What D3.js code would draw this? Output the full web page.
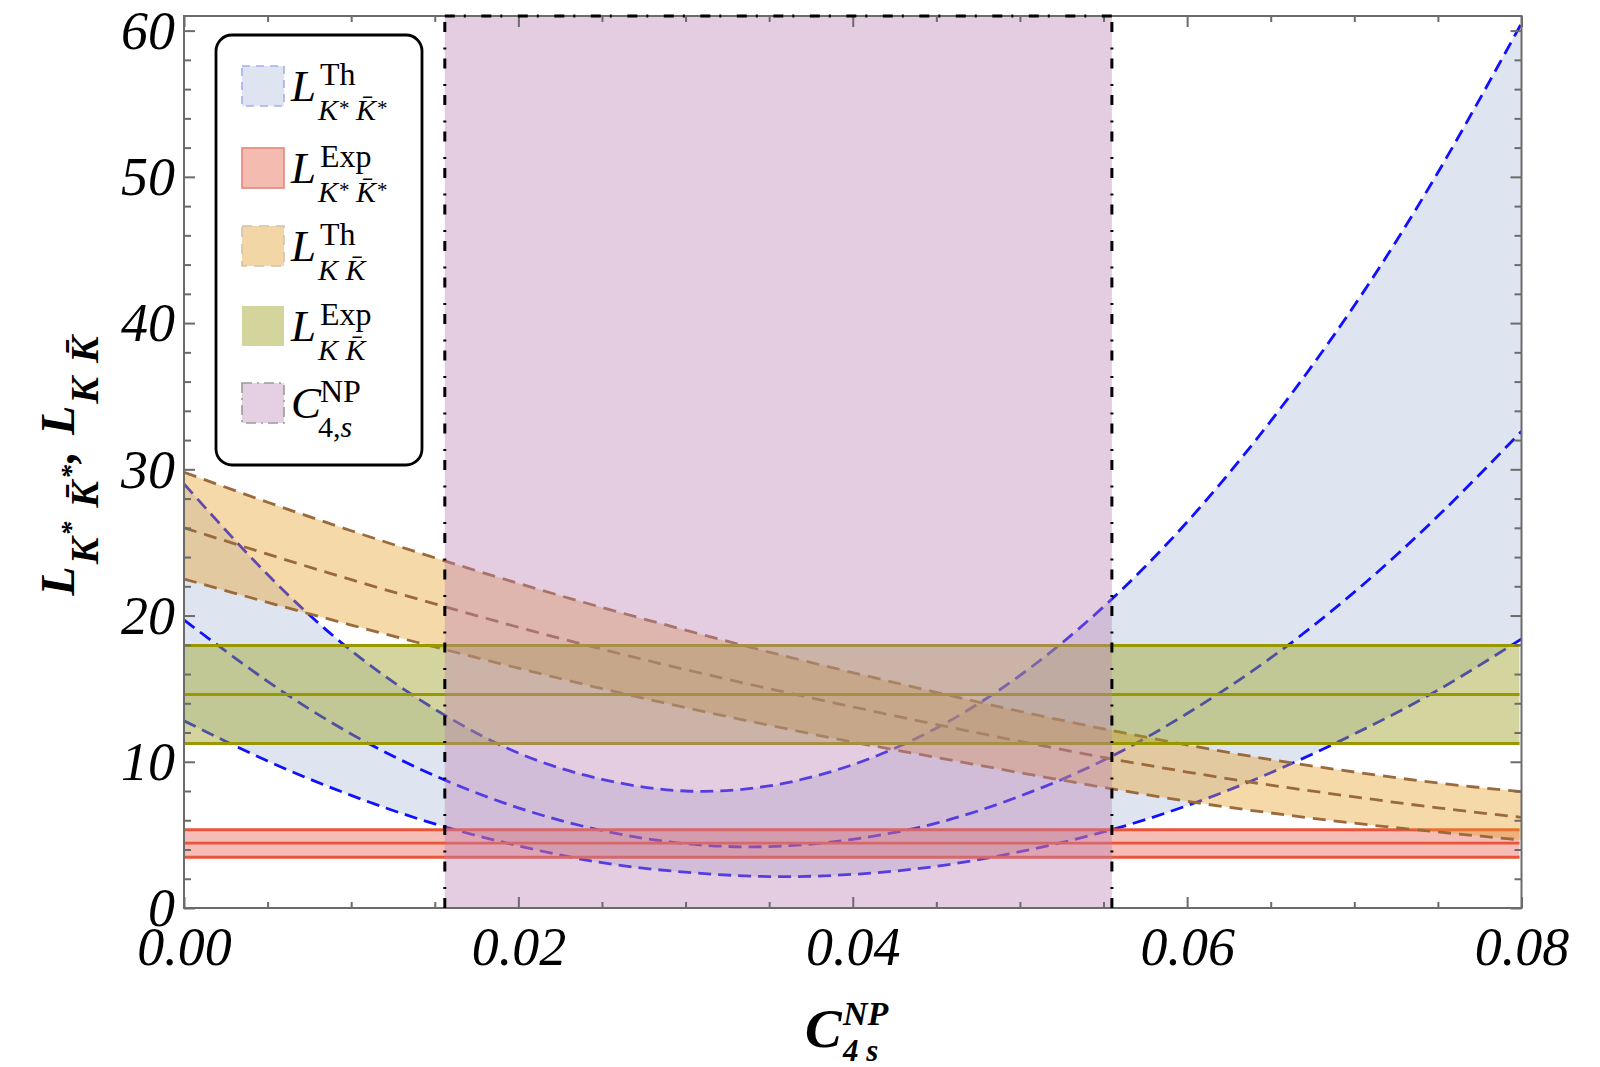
<!DOCTYPE html>
<html>
<head>
<meta charset="utf-8">
<title>L ratios vs C4s NP</title>
<script src="https://d3js.org/d3.v7.min.js"></script>
<style>
  body { margin: 0; background: #fff; }
  svg { display: block; }
</style>
</head>
<body>
<svg id="chart" width="1600" height="1067"></svg>
<script type="text/javascript">

// values
const xGrid = [0, 0.005, 0.01, 0.015, 0.02, 0.025, 0.03, 0.035, 0.04, 0.045, 0.05, 0.055, 0.06, 0.065, 0.07, 0.075, 0.08];

// L_{K* K*bar} theory band (upper / central / lower)
const kstarThUpper   = [29.0, 22.8, 17.6, 13.6, 10.6, 8.8, 8.0, 8.35, 9.8, 12.3, 15.9, 20.6, 26.4, 33.3, 41.2, 50.3, 60.5];
const kstarThCentral = [19.7, 15.5, 11.9, 9.05, 6.85, 5.3, 4.4, 4.2, 4.7, 5.8, 7.65, 10.1, 13.3, 17.1, 21.6, 26.8, 32.6];
const kstarThLower   = [12.8, 10.05, 7.7, 5.75, 4.25, 3.1, 2.45, 2.15, 2.3, 2.85, 3.85, 5.2, 7.0, 9.25, 11.9, 14.9, 18.4];

// L_{K Kbar} theory band (upper / central / lower)
const kkThUpper   = [29.8, 27.75, 25.8, 23.95, 22.2, 20.55, 19.0, 17.5, 16.1, 14.75, 13.45, 12.25, 11.15, 10.15, 9.3, 8.55, 7.95];
const kkThCentral = [26.0, 24.2, 22.45, 20.8, 19.2, 17.7, 16.3, 15.0, 13.75, 12.55, 11.4, 10.3, 9.3, 8.4, 7.6, 6.85, 6.2];
const kkThLower   = [22.5, 20.9, 19.35, 17.85, 16.4, 15.0, 13.7, 12.5, 11.35, 10.3, 9.25, 8.25, 7.3, 6.5, 5.8, 5.2, 4.65];

// experimental bands: lower, central, upper
const kstarExp = [3.47, 4.43, 5.35];
const kkExp = [11.25, 14.6, 17.95];

// allowed C4s NP window
const c4sWindow = [0.0156, 0.0555];

// ticks
const xMajor = [0, 0.02, 0.04, 0.06, 0.08];
const xTickLabels = ['0.00', '0.02', '0.04', '0.06', '0.08'];
const xMinor = [0.005, 0.01, 0.015, 0.025, 0.03, 0.035, 0.045, 0.05, 0.055, 0.065, 0.07, 0.075];
const yMajor = [0, 10, 20, 30, 40, 50, 60];
const yMinor = [2, 4, 6, 8, 12, 14, 16, 18, 22, 24, 26, 28, 32, 34, 36, 38, 42, 44, 46, 48, 52, 54, 56, 58];

const xDomain = [0, 0.08];
const yDomain = [0, 61];

const serif = '"Liberation Serif", "Times New Roman", serif';

const svg = d3.select('#chart');
const margin = {top: 16, left: 184, right: 78.5, bottom: 159};
const width = +svg.attr('width');
const height = +svg.attr('height');
const innerwidth = width - margin.left - margin.right;
const innerheight = height - margin.top - margin.bottom;

const x = d3.scaleLinear().domain(xDomain).range([margin.left, margin.left + innerwidth]);
const y = d3.scaleLinear().domain(yDomain).range([margin.top + innerheight, margin.top]);

svg.append('defs').append('clipPath').attr('id', 'plotclip')
  .append('rect')
  .attr('x', margin.left).attr('y', margin.top)
  .attr('width', innerwidth).attr('height', innerheight);

const plot = svg.append('g').attr('clip-path', 'url(#plotclip)');

const line = arr => d3.line()
  .x((d, i) => x(xGrid[i]))
  .y(d => y(d))
  .curve(d3.curveNatural)(arr);

const band = (lo, hi) => d3.area()
  .x((d, i) => x(xGrid[i]))
  .y0((d, i) => y(lo[i]))
  .y1((d, i) => y(hi[i]))
  .curve(d3.curveNatural)(xGrid);

// blue theory band K* K*bar
plot.append('path').attr('d', band(kstarThLower, kstarThUpper))
  .attr('fill', 'rgb(95,125,180)').attr('fill-opacity', 0.2);
[kstarThUpper, kstarThCentral, kstarThLower].forEach(arr => {
  plot.append('path').attr('d', line(arr))
    .attr('fill', 'none').attr('stroke', '#1010ff')
    .attr('stroke-width', 2.8).attr('stroke-dasharray', '13,7');
});

// red experimental band K* K*bar
const hband = (vals, fill, op, stroke) => {
  plot.append('rect')
    .attr('x', x(xDomain[0])).attr('width', x(xDomain[1]) - x(xDomain[0]) - 2)
    .attr('y', y(vals[2])).attr('height', y(vals[0]) - y(vals[2]))
    .attr('fill', fill).attr('fill-opacity', op);
  vals.forEach(v => {
    plot.append('line')
      .attr('x1', x(xDomain[0])).attr('x2', x(xDomain[1]) - 2)
      .attr('y1', y(v)).attr('y2', y(v))
      .attr('stroke', stroke).attr('stroke-width', 2.8);
  });
};
hband(kstarExp, 'rgb(230,90,70)', 0.4, '#e8553b');

// orange theory band K Kbar
plot.append('path').attr('d', band(kkThLower, kkThUpper))
  .attr('fill', 'rgb(230,160,40)').attr('fill-opacity', 0.4);
[kkThUpper, kkThCentral, kkThLower].forEach(arr => {
  plot.append('path').attr('d', line(arr))
    .attr('fill', 'none').attr('stroke', '#9a6a3c')
    .attr('stroke-width', 2.8).attr('stroke-dasharray', '13,8');
});

// green experimental band K Kbar
hband(kkExp, 'rgb(160,162,40)', 0.45, '#999800');

// purple C4s window
plot.append('rect')
  .attr('x', x(c4sWindow[0])).attr('width', x(c4sWindow[1]) - x(c4sWindow[0]))
  .attr('y', y(yDomain[1])).attr('height', y(yDomain[0]) - y(yDomain[1]))
  .attr('fill', 'rgb(190,130,180)').attr('fill-opacity', 0.4);

// frame and ticks (all four sides, inward)
const frameColor = '#6b6b6b';
const tickAxis = (axis, tx, ty, vals, size) => {
  const g = svg.append('g').attr('transform', `translate(${tx},${ty})`)
    .call(axis.tickValues(vals).tickSize(-size).tickFormat(''));
  g.select('.domain').remove();
  g.selectAll('.tick line').attr('stroke', frameColor).attr('stroke-width', 2);
  return g;
};
const bottomY = y(yDomain[0]);
const topY = y(yDomain[1]);
const leftX = x(xDomain[0]);
const rightX = x(xDomain[1]);
tickAxis(d3.axisBottom(x), 0, bottomY, xMajor, 11);
tickAxis(d3.axisBottom(x), 0, bottomY, xMinor, 6);
tickAxis(d3.axisTop(x), 0, topY, xMajor, 11);
tickAxis(d3.axisTop(x), 0, topY, xMinor, 6);
tickAxis(d3.axisLeft(y), leftX, 0, yMajor, 11);
tickAxis(d3.axisLeft(y), leftX, 0, yMinor, 7);
tickAxis(d3.axisRight(y), rightX, 0, yMajor, 11);
tickAxis(d3.axisRight(y), rightX, 0, yMinor, 7);

svg.append('rect')
  .attr('x', leftX).attr('y', topY)
  .attr('width', rightX - leftX).attr('height', bottomY - topY)
  .attr('fill', 'none').attr('stroke', frameColor).attr('stroke-width', 2);

// tick labels
const xLab = svg.append('g').attr('transform', `translate(0,${bottomY})`)
  .call(d3.axisBottom(x).tickValues(xMajor).tickSize(0).tickPadding(19)
    .tickFormat((d, i) => xTickLabels[i]));
xLab.select('.domain').remove();
xLab.attr('font-family', serif).attr('font-size', 54).attr('font-style', 'italic');
xLab.selectAll('text').attr('fill', '#000');

const yLab = svg.append('g').attr('transform', `translate(${leftX},0)`)
  .call(d3.axisLeft(y).tickValues(yMajor).tickSize(0).tickPadding(9)
    .tickFormat(d => d));
yLab.select('.domain').remove();
yLab.attr('font-family', serif).attr('font-size', 54).attr('font-style', 'italic');
yLab.selectAll('text').attr('fill', '#000').attr('dy', '0.33em');

// dash-dot edges of the C4s window
const dashDot = '10,9,2,15.5';
c4sWindow.forEach(v => {
  svg.append('line')
    .attr('x1', x(v)).attr('x2', x(v))
    .attr('y1', bottomY).attr('y2', topY)
    .attr('stroke', '#000').attr('stroke-width', 3)
    .attr('stroke-dasharray', dashDot);
});
svg.append('line')
  .attr('x1', x(c4sWindow[0])).attr('x2', x(c4sWindow[1]))
  .attr('y1', topY).attr('y2', topY)
  .attr('stroke', '#000').attr('stroke-width', 3)
  .attr('stroke-dasharray', dashDot);

// legend
const legendFills = ['#dfe5f0', '#f4bcb0', '#f2d6a6', '#d4d59c', '#e4d0e2'];
const legendStrokes = ['#a8aaf0', '#e08878', '#d2c2aa', 'none', '#9a9a9a'];
const legendDash = ['8,6', null, '10,7', null, '10,5,2,5'];
const legendMain = ['L', 'L', 'L', 'L', 'C'];
const legendSup = ['Th', 'Exp', 'Th', 'Exp', 'NP'];
const legendSub = ['kstar', 'kstar', 'kk', 'kk', 'c4s'];
const legendTops = [66, 148, 226, 306, 383];

const legend = svg.append('g');
legend.append('rect')
  .attr('x', 216).attr('y', 35).attr('width', 206).attr('height', 430)
  .attr('rx', 16).attr('ry', 16)
  .attr('fill', '#fff').attr('stroke', '#000').attr('stroke-width', 2.8);

legendTops.forEach((top, i) => {
  legend.append('rect')
    .attr('x', 242).attr('y', top).attr('width', 42).attr('height', 40)
    .attr('fill', legendFills[i])
    .attr('stroke', legendStrokes[i]).attr('stroke-width', 1.6)
    .attr('stroke-dasharray', legendDash[i]);

  legend.append('text')
    .attr('x', 291).attr('y', top + 35)
    .attr('font-family', serif).attr('font-size', 45).attr('font-style', 'italic')
    .text(legendMain[i]);

  legend.append('text')
    .attr('x', 320).attr('y', top + 19)
    .attr('font-family', serif).attr('font-size', 32)
    .text(legendSup[i]);

  const sub = legend.append('text')
    .attr('x', 318).attr('y', top + 54)
    .attr('font-family', serif).attr('font-size', 30).attr('font-style', 'italic');
  if (legendSub[i] === 'kstar') {
    sub.append('tspan').text('K');
    sub.append('tspan').attr('font-size', 21).attr('dy', -5).text('*');
    sub.append('tspan').attr('dy', 5).text(' K\u0304');
    sub.append('tspan').attr('font-size', 21).attr('dy', -5).text('*');
  } else if (legendSub[i] === 'kk') {
    sub.text('K K\u0304');
  } else {
    sub.append('tspan').attr('font-style', 'normal').text('4,');
    sub.append('tspan').text('s');
  }
});

// y axis title
const yt = svg.append('text')
  .attr('transform', 'translate(74,465) rotate(-90)')
  .attr('text-anchor', 'middle')
  .attr('letter-spacing', 2)
  .attr('font-family', serif).attr('font-weight', 'bold').attr('font-style', 'italic');
yt.append('tspan').attr('font-size', 48).text('L');
yt.append('tspan').attr('font-size', 40).attr('dy', 24).text('K');
yt.append('tspan').attr('font-size', 28).attr('dy', -18).text('*');
yt.append('tspan').attr('font-size', 40).attr('dy', 18).text(' K\u0304');
yt.append('tspan').attr('font-size', 28).attr('dy', -18).text('*');
yt.append('tspan').attr('font-size', 48).attr('dy', -6).text(', L');
yt.append('tspan').attr('font-size', 40).attr('dy', 24).text('K K\u0304');

// x axis title
const xt = svg.append('g')
  .attr('font-family', serif).attr('font-weight', 'bold').attr('font-style', 'italic');
xt.append('text').attr('x', 805).attr('y', 1047).attr('font-size', 55).text('C');
xt.append('text').attr('x', 843).attr('y', 1025).attr('font-size', 34).text('NP');
xt.append('text').attr('x', 843).attr('y', 1061).attr('font-size', 31).text('4 s');

</script>
</body>
</html>
